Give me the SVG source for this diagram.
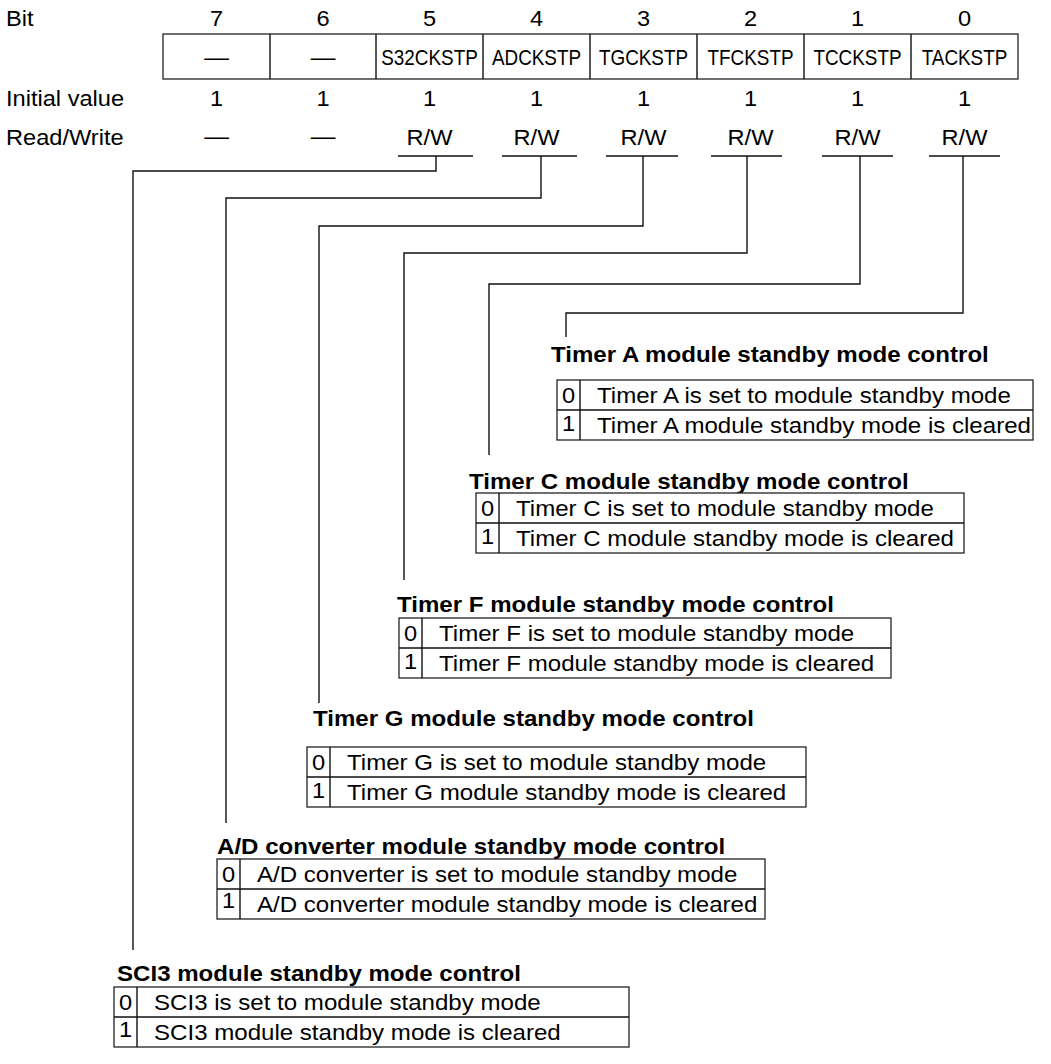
<svg xmlns="http://www.w3.org/2000/svg" width="1051" height="1064" viewBox="0 0 1051 1064">
<style>
text { font-family: "Liberation Sans", Arial, Helvetica, sans-serif; font-size: 22.5px; fill: #000; }
.m { text-anchor: middle; }
.b { font-weight: bold; }
.box { fill: #fff; stroke: #222; stroke-width: 1.3; }
.ln { fill: none; stroke: #111; stroke-width: 1.4; }
.conn { fill: none; stroke: #111; stroke-width: 1.4; }
</style>
<rect width="1051" height="1064" fill="#fff"/>

<g id="register">
  <text transform="translate(6 26) scale(1.05 1)">Bit</text>
  <text class="m" transform="translate(216.5 26) scale(1.05 1)">7</text>
  <text class="m" transform="translate(323 26) scale(1.05 1)">6</text>
  <text class="m" transform="translate(429.5 26) scale(1.05 1)">5</text>
  <text class="m" transform="translate(536.5 26) scale(1.05 1)">4</text>
  <text class="m" transform="translate(643.5 26) scale(1.05 1)">3</text>
  <text class="m" transform="translate(750.5 26) scale(1.05 1)">2</text>
  <text class="m" transform="translate(857.5 26) scale(1.05 1)">1</text>
  <text class="m" transform="translate(964.5 26) scale(1.05 1)">0</text>

  <rect class="box" x="163" y="34" width="855" height="45"/>
  <path class="ln" d="M270 34V79M376 34V79M483 34V79M590 34V79M697 34V79M804 34V79M911 34V79"/>
  <text class="m" transform="translate(216.5 65) scale(1.1 1)">—</text>
  <text class="m" transform="translate(323 65) scale(1.1 1)">—</text>
  <text class="m" transform="translate(429.5 65) scale(0.84 1)">S32CKSTP</text>
  <text class="m" transform="translate(536.5 65) scale(0.84 1)">ADCKSTP</text>
  <text class="m" transform="translate(643.5 65) scale(0.84 1)">TGCKSTP</text>
  <text class="m" transform="translate(750.5 65) scale(0.84 1)">TFCKSTP</text>
  <text class="m" transform="translate(857.5 65) scale(0.84 1)">TCCKSTP</text>
  <text class="m" transform="translate(964.5 65) scale(0.84 1)">TACKSTP</text>

  <text transform="translate(6 106) scale(1.05 1)">Initial value</text>
  <text class="m" transform="translate(216.5 106) scale(1.05 1)">1</text>
  <text class="m" transform="translate(323 106) scale(1.05 1)">1</text>
  <text class="m" transform="translate(429.5 106) scale(1.05 1)">1</text>
  <text class="m" transform="translate(536.5 106) scale(1.05 1)">1</text>
  <text class="m" transform="translate(643.5 106) scale(1.05 1)">1</text>
  <text class="m" transform="translate(750.5 106) scale(1.05 1)">1</text>
  <text class="m" transform="translate(857.5 106) scale(1.05 1)">1</text>
  <text class="m" transform="translate(964.5 106) scale(1.05 1)">1</text>

  <text transform="translate(6 145) scale(1.05 1)">Read/Write</text>
  <text class="m" transform="translate(216.5 144) scale(1.1 1)">—</text>
  <text class="m" transform="translate(323 144) scale(1.1 1)">—</text>
  <text class="m" transform="translate(429.5 145) scale(1.05 1)">R/W</text>
  <text class="m" transform="translate(536.5 145) scale(1.05 1)">R/W</text>
  <text class="m" transform="translate(643.5 145) scale(1.05 1)">R/W</text>
  <text class="m" transform="translate(750.5 145) scale(1.05 1)">R/W</text>
  <text class="m" transform="translate(857.5 145) scale(1.05 1)">R/W</text>
  <text class="m" transform="translate(964.5 145) scale(1.05 1)">R/W</text>
  <path class="ln" d="M398 156H473M502 156H577M606 156H678M711 156H782M822 156H893M929 156H1000"/>
</g>

<g id="connectors">
  <path class="conn" d="M436 156V171H133V950"/>
  <path class="conn" d="M541 156V198H226V823"/>
  <path class="conn" d="M643 156V226H319V703"/>
  <path class="conn" d="M747 156V253H404V580"/>
  <path class="conn" d="M860 156V284H489V455"/>
  <path class="conn" d="M963 156V313H566V337"/>
</g>

<g id="timerA">
  <text class="b" transform="translate(551 362) scale(1.07 1)">Timer A module standby mode control</text>
  <rect class="box" x="557" y="380" width="476" height="60"/>
  <path class="ln" d="M580 380V440M557 410H1033"/>
  <text class="m" transform="translate(568.5 403) scale(1.05 1)">0</text>
  <text transform="translate(597 403) scale(1.07 1)">Timer A is set to module standby mode</text>
  <text class="m" transform="translate(568.5 431) scale(1.05 1)">1</text>
  <text transform="translate(597 433) scale(1.07 1)">Timer A module standby mode is cleared</text>
</g>

<g id="timerC">
  <text class="b" transform="translate(469 489) scale(1.07 1)">Timer C module standby mode control</text>
  <rect class="box" x="476" y="493" width="488" height="60"/>
  <path class="ln" d="M499 493V553M476 523H964"/>
  <text class="m" transform="translate(487.5 516) scale(1.05 1)">0</text>
  <text transform="translate(516 516) scale(1.07 1)">Timer C is set to module standby mode</text>
  <text class="m" transform="translate(487.5 544) scale(1.05 1)">1</text>
  <text transform="translate(516 546) scale(1.07 1)">Timer C module standby mode is cleared</text>
</g>

<g id="timerF">
  <text class="b" transform="translate(397 612) scale(1.07 1)">Timer F module standby mode control</text>
  <rect class="box" x="399" y="618" width="492" height="60"/>
  <path class="ln" d="M422 618V678M399 648H891"/>
  <text class="m" transform="translate(410.5 641) scale(1.05 1)">0</text>
  <text transform="translate(439 641) scale(1.07 1)">Timer F is set to module standby mode</text>
  <text class="m" transform="translate(410.5 669) scale(1.05 1)">1</text>
  <text transform="translate(439 671) scale(1.07 1)">Timer F module standby mode is cleared</text>
</g>

<g id="timerG">
  <text class="b" transform="translate(313 726) scale(1.07 1)">Timer G module standby mode control</text>
  <rect class="box" x="307" y="747" width="499" height="60"/>
  <path class="ln" d="M330 747V807M307 777H806"/>
  <text class="m" transform="translate(318.5 770) scale(1.05 1)">0</text>
  <text transform="translate(347 770) scale(1.07 1)">Timer G is set to module standby mode</text>
  <text class="m" transform="translate(318.5 798) scale(1.05 1)">1</text>
  <text transform="translate(347 800) scale(1.07 1)">Timer G module standby mode is cleared</text>
</g>

<g id="adc">
  <text class="b" transform="translate(217 854) scale(1.07 1)">A/D converter module standby mode control</text>
  <rect class="box" x="217" y="859" width="548" height="60"/>
  <path class="ln" d="M240 859V919M217 889H765"/>
  <text class="m" transform="translate(228.5 882) scale(1.05 1)">0</text>
  <text transform="translate(257 882) scale(1.07 1)">A/D converter is set to module standby mode</text>
  <text class="m" transform="translate(228.5 908) scale(1.05 1)">1</text>
  <text transform="translate(257 912) scale(1.07 1)">A/D converter module standby mode is cleared</text>
</g>

<g id="sci3">
  <text class="b" transform="translate(117 981) scale(1.07 1)">SCI3 module standby mode control</text>
  <rect class="box" x="114" y="987" width="515" height="60"/>
  <path class="ln" d="M137 987V1047M114 1017H629"/>
  <text class="m" transform="translate(125.5 1010) scale(1.05 1)">0</text>
  <text transform="translate(154 1010) scale(1.07 1)">SCI3 is set to module standby mode</text>
  <text class="m" transform="translate(125.5 1037) scale(1.05 1)">1</text>
  <text transform="translate(154 1040) scale(1.07 1)">SCI3 module standby mode is cleared</text>
</g>
</svg>
